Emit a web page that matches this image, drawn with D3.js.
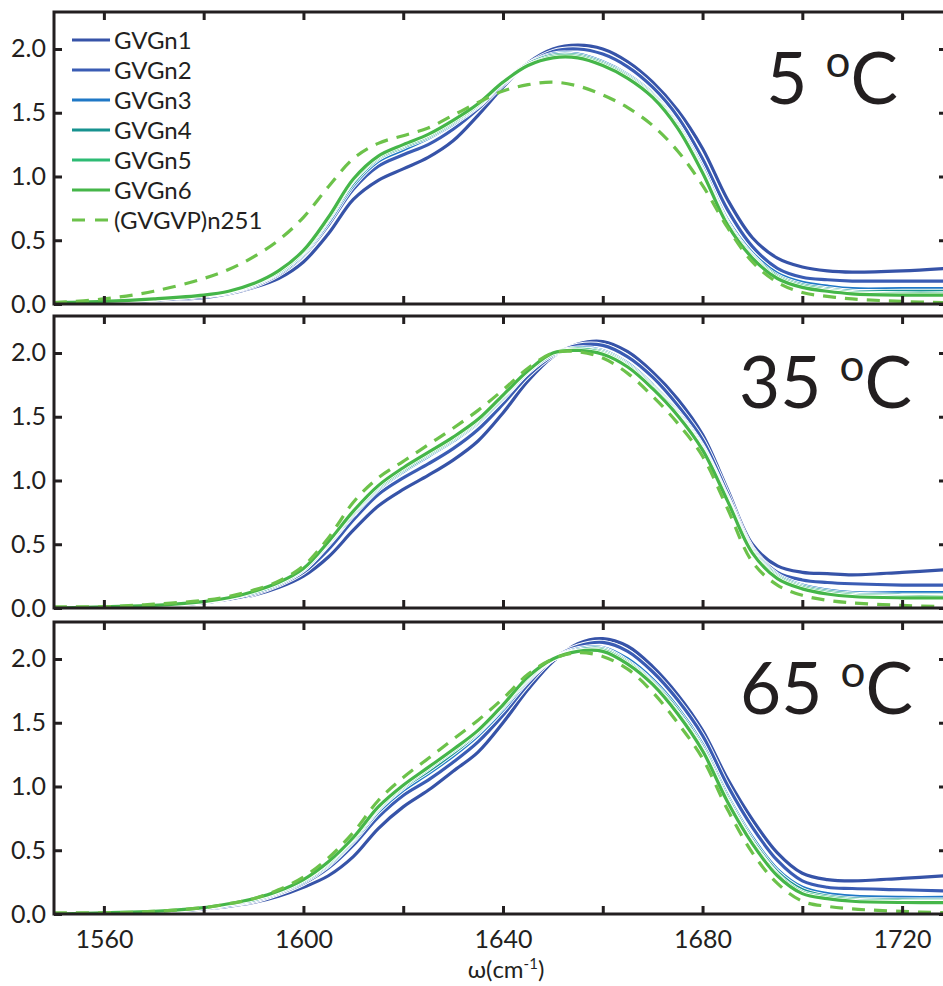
<!DOCTYPE html>
<html>
<head>
<meta charset="utf-8">
<script src="https://cdn.jsdelivr.net/npm/d3@7"></script>
<style>
  body { margin: 0; background: #fff; }
  svg text { font-family: Lato, "Open Sans", sans-serif; fill: #231f20; }
</style>
</head>
<body>
<script>
// wavenumber grid (cm-1) shared by every curve
const wavenumber = [1550, 1560, 1570, 1580, 1585, 1590, 1595, 1600, 1605, 1610, 1615, 1620, 1625, 1630, 1635, 1640,
                    1645, 1650, 1655, 1660, 1665, 1670, 1675, 1680, 1685, 1690, 1695, 1700, 1705, 1710, 1720, 1729];

const seriesNames = ["GVGn1", "GVGn2", "GVGn3", "GVGn4", "GVGn5", "GVGn6", "(GVGVP)n251"];
const seriesColors = ["#3653a8", "#3a5cb4", "#1f78c6", "#17928f", "#2dbb74", "#45b649", "#6cc24a"];
const temperatures = ["5", "35", "65"];

const yTicks = [0, 0.5, 1.0, 1.5, 2.0];
const xTicks = [1560, 1580, 1600, 1620, 1640, 1660, 1680, 1700, 1720];
const xTickLabels = [1560, 1600, 1640, 1680, 1720];

// 5 oC
const gvgn1_5 = [0.00,0.01,0.03,0.05,0.08,0.13,0.20,0.33,0.55,0.82,0.97,1.06,1.15,1.28,1.48,1.70,1.89,2.00,2.03,2.00,1.90,1.74,1.52,1.22,0.82,0.52,0.36,0.29,0.26,0.25,0.26,0.28];
const gvgn2_5 = [0.01,0.01,0.03,0.06,0.09,0.14,0.23,0.38,0.62,0.90,1.08,1.17,1.25,1.37,1.53,1.72,1.88,1.98,2.00,1.96,1.86,1.70,1.47,1.14,0.74,0.45,0.28,0.21,0.19,0.18,0.18,0.18];
const gvgn3_5 = [0.01,0.02,0.04,0.07,0.09,0.15,0.24,0.39,0.64,0.93,1.12,1.21,1.30,1.41,1.55,1.73,1.88,1.96,1.96,1.90,1.80,1.65,1.41,1.07,0.66,0.40,0.24,0.17,0.14,0.12,0.12,0.12];
const gvgn4_5 = [0.01,0.02,0.04,0.07,0.10,0.15,0.25,0.40,0.66,0.95,1.14,1.23,1.31,1.42,1.56,1.74,1.88,1.95,1.95,1.89,1.79,1.64,1.40,1.05,0.64,0.38,0.22,0.15,0.12,0.10,0.10,0.10];
const gvgn5_5 = [0.01,0.02,0.04,0.07,0.10,0.16,0.25,0.41,0.67,0.97,1.15,1.24,1.32,1.43,1.56,1.74,1.87,1.94,1.94,1.88,1.78,1.63,1.39,1.04,0.63,0.37,0.21,0.14,0.11,0.09,0.08,0.08];
const gvgn6_5 = [0.01,0.02,0.04,0.07,0.10,0.16,0.26,0.42,0.68,0.98,1.16,1.25,1.33,1.44,1.57,1.74,1.87,1.93,1.93,1.87,1.77,1.62,1.38,1.03,0.62,0.36,0.20,0.13,0.10,0.08,0.07,0.07];
const gvgvp_5 = [0.01,0.04,0.10,0.20,0.27,0.37,0.50,0.68,0.92,1.14,1.26,1.32,1.38,1.48,1.58,1.67,1.72,1.74,1.71,1.64,1.54,1.40,1.20,0.93,0.60,0.33,0.17,0.09,0.06,0.04,0.02,0.01];

// 35 oC
const gvgn1_35 = [0.00,0.01,0.02,0.04,0.07,0.10,0.16,0.25,0.40,0.61,0.80,0.93,1.04,1.16,1.31,1.53,1.78,1.97,2.07,2.09,2.01,1.85,1.64,1.36,0.93,0.50,0.33,0.28,0.27,0.26,0.28,0.30];
const gvgn2_35 = [0.00,0.01,0.02,0.05,0.07,0.11,0.18,0.28,0.46,0.69,0.89,1.02,1.13,1.25,1.40,1.60,1.82,1.98,2.06,2.06,1.97,1.81,1.59,1.32,0.90,0.47,0.28,0.22,0.20,0.19,0.18,0.18];
const gvgn3_35 = [0.00,0.01,0.02,0.05,0.08,0.12,0.19,0.30,0.50,0.73,0.93,1.07,1.19,1.31,1.45,1.64,1.85,1.99,2.04,2.02,1.92,1.75,1.54,1.27,0.87,0.46,0.26,0.18,0.14,0.12,0.12,0.12];
const gvgn4_35 = [0.00,0.01,0.02,0.05,0.08,0.12,0.19,0.30,0.51,0.74,0.94,1.08,1.20,1.32,1.46,1.65,1.85,1.99,2.03,2.01,1.91,1.74,1.53,1.26,0.86,0.45,0.25,0.17,0.13,0.11,0.10,0.10];
const gvgn5_35 = [0.00,0.01,0.02,0.05,0.08,0.13,0.20,0.31,0.52,0.75,0.95,1.09,1.21,1.33,1.47,1.66,1.86,2.00,2.03,2.00,1.90,1.73,1.52,1.25,0.85,0.44,0.24,0.16,0.12,0.10,0.09,0.09];
const gvgn6_35 = [0.00,0.01,0.02,0.05,0.08,0.13,0.20,0.31,0.52,0.76,0.96,1.10,1.22,1.34,1.48,1.67,1.86,2.00,2.02,1.99,1.89,1.72,1.51,1.24,0.84,0.43,0.23,0.15,0.11,0.09,0.08,0.08];
const gvgvp_35 = [0.01,0.01,0.03,0.06,0.09,0.14,0.21,0.33,0.55,0.83,1.02,1.15,1.28,1.41,1.55,1.71,1.88,2.00,2.01,1.96,1.84,1.66,1.45,1.19,0.78,0.36,0.18,0.10,0.06,0.04,0.02,0.01];

// 65 oC
const gvgn1_65 = [0.00,0.00,0.01,0.04,0.06,0.09,0.14,0.21,0.30,0.45,0.67,0.84,0.97,1.12,1.27,1.50,1.76,1.98,2.12,2.16,2.10,1.94,1.72,1.44,1.06,0.74,0.48,0.32,0.27,0.26,0.28,0.30];
const gvgn2_65 = [0.00,0.00,0.02,0.04,0.07,0.10,0.16,0.24,0.36,0.54,0.76,0.93,1.05,1.19,1.35,1.56,1.80,2.00,2.10,2.13,2.06,1.90,1.68,1.40,1.01,0.68,0.42,0.26,0.21,0.20,0.19,0.18];
const gvgn3_65 = [0.00,0.01,0.02,0.05,0.07,0.11,0.17,0.25,0.38,0.57,0.80,0.97,1.10,1.24,1.40,1.60,1.83,2.00,2.08,2.09,2.00,1.84,1.62,1.33,0.93,0.60,0.35,0.21,0.16,0.14,0.13,0.13];
const gvgn4_65 = [0.00,0.01,0.02,0.05,0.08,0.11,0.17,0.26,0.39,0.58,0.82,0.99,1.12,1.26,1.42,1.62,1.84,2.00,2.07,2.08,1.98,1.82,1.60,1.31,0.91,0.58,0.33,0.19,0.14,0.12,0.11,0.11];
const gvgn5_65 = [0.00,0.01,0.02,0.05,0.08,0.12,0.18,0.27,0.40,0.59,0.83,1.00,1.14,1.28,1.43,1.63,1.85,2.00,2.06,2.07,1.97,1.81,1.58,1.29,0.89,0.56,0.31,0.17,0.13,0.11,0.10,0.10];
const gvgn6_65 = [0.00,0.01,0.02,0.05,0.08,0.12,0.18,0.27,0.41,0.60,0.84,1.01,1.15,1.29,1.44,1.64,1.86,2.00,2.06,2.06,1.96,1.80,1.57,1.28,0.88,0.55,0.30,0.16,0.12,0.10,0.09,0.09];
const gvgvp_65 = [0.01,0.01,0.02,0.05,0.08,0.12,0.19,0.29,0.44,0.64,0.89,1.07,1.22,1.37,1.52,1.69,1.88,2.00,2.05,2.02,1.92,1.74,1.50,1.22,0.82,0.48,0.24,0.10,0.06,0.04,0.02,0.01];

const panelSeries = [
    [gvgn1_5, gvgn2_5, gvgn3_5, gvgn4_5, gvgn5_5, gvgn6_5, gvgvp_5],
    [gvgn1_35, gvgn2_35, gvgn3_35, gvgn4_35, gvgn5_35, gvgn6_35, gvgvp_35],
    [gvgn1_65, gvgn2_65, gvgn3_65, gvgn4_65, gvgn5_65, gvgn6_65, gvgvp_65]
];

// layout
const width = 943;
const height = 986;
const plotLeft = 54;
const plotRight = 947;   // right frame sits just outside the picture
const panelTops = [12, 316, 622];
const panelH = 292;
const labelRight = [898, 912, 913];
const ink = '#231f20';
const fontFamily = 'Lato, "Open Sans", sans-serif';

const svg = d3.select('body')
    .append('svg')
    .attr('width', width)
    .attr('height', height);

const x = d3.scaleLinear()
    .domain([1550, 1729])
    .range([plotLeft, plotRight]);

panelSeries.forEach((seriesList, p) => {
    const top = panelTops[p];
    const bottom = top + panelH;

    const y = d3.scaleLinear()
        .domain([0, 2.29])
        .range([bottom, top]);

    const g = svg.append('g');

    g.append('clipPath')
        .attr('id', 'clip' + p)
        .append('rect')
        .attr('x', plotLeft)
        .attr('y', top)
        .attr('width', plotRight - plotLeft)
        .attr('height', panelH);

    const line = d3.line()
        .x((d, i) => x(wavenumber[i]))
        .y(d => y(d))
        .curve(d3.curveCatmullRom.alpha(0.5));

    const curves = g.append('g').attr('clip-path', `url(#clip${p})`);

    seriesList.forEach((values, i) => {
        const dashed = i === seriesList.length - 1;
        if (!dashed) {
            // thin white halo, gives the gap between neighbouring curves
            curves.append('path')
                .attr('d', line(values))
                .attr('fill', 'none')
                .attr('stroke', '#fff')
                .attr('stroke-width', 5);
        }
        curves.append('path')
            .attr('d', line(values))
            .attr('fill', 'none')
            .attr('stroke', seriesColors[i])
            .attr('stroke-width', 3.2)
            .attr('stroke-dasharray', dashed ? '13,9' : null);
    });

    // axes, ticks pointing inward on all four sides
    const leftAxis = g.append('g')
        .attr('transform', `translate(${plotLeft},0)`)
        .call(d3.axisLeft(y).tickValues(yTicks).tickSizeInner(-8).tickSizeOuter(0)
            .tickPadding(8).tickFormat(d3.format('.1f')));

    const rightAxis = g.append('g')
        .attr('transform', `translate(${plotRight},0)`)
        .call(d3.axisRight(y).tickValues(yTicks).tickSizeInner(-8).tickSizeOuter(0).tickFormat(''));

    const topAxis = g.append('g')
        .attr('transform', `translate(0,${top})`)
        .call(d3.axisTop(x).tickValues(xTicks).tickSizeInner(-8).tickSizeOuter(0).tickFormat(''));

    const bottomAxis = g.append('g')
        .attr('transform', `translate(0,${bottom})`)
        .call(d3.axisBottom(x).tickValues(xTicks).tickSizeInner(-8).tickSizeOuter(0)
            .tickPadding(16)
            .tickFormat(d => (p === 2 && xTickLabels.includes(d)) ? d : ''));

    [leftAxis, rightAxis, topAxis, bottomAxis].forEach(a => {
        a.select('.domain').remove();
        a.selectAll('.tick line').attr('stroke', ink).attr('stroke-width', 3);
        a.selectAll('.tick text').attr('font-size', 25).attr('fill', ink)
            .style('font-family', fontFamily);
    });

    // frame
    g.append('rect')
        .attr('x', plotLeft)
        .attr('y', top)
        .attr('width', plotRight - plotLeft)
        .attr('height', panelH)
        .attr('fill', 'none')
        .attr('stroke', ink)
        .attr('stroke-width', 3);

    // temperature label
    const label = g.append('text')
        .attr('x', labelRight[p])
        .attr('y', top + 92)
        .attr('text-anchor', 'end')
        .attr('font-size', 71);
    label.append('tspan').text(temperatures[p] + ' ');
    label.append('tspan').attr('font-size', 44).attr('dy', -27).text('o');
    label.append('tspan').attr('dy', 27).text('C');
});

// legend (top panel)
const legend = svg.selectAll('.legend')
    .data(seriesNames)
    .enter()
    .append('g')
    .attr('class', 'legend')
    .attr('transform', (d, i) => `translate(72,${40 + i * 30})`);

legend.append('line')
    .attr('x1', 0)
    .attr('x2', 38)
    .attr('stroke', (d, i) => seriesColors[i])
    .attr('stroke-width', 3.2)
    .attr('stroke-dasharray', (d, i) => i === seriesNames.length - 1 ? '13,10' : null);

legend.append('text')
    .attr('x', 42)
    .attr('y', 9)
    .attr('font-size', 24)
    .text(d => d);

// x-axis title
const xTitle = svg.append('text')
    .attr('x', 506)
    .attr('y', 978)
    .attr('text-anchor', 'middle')
    .attr('font-size', 24);
xTitle.append('tspan').text('ω(cm');
xTitle.append('tspan').attr('font-size', 15).attr('dy', -9).text('-1');
xTitle.append('tspan').attr('dy', 9).text(')');
</script>
</body>
</html>
